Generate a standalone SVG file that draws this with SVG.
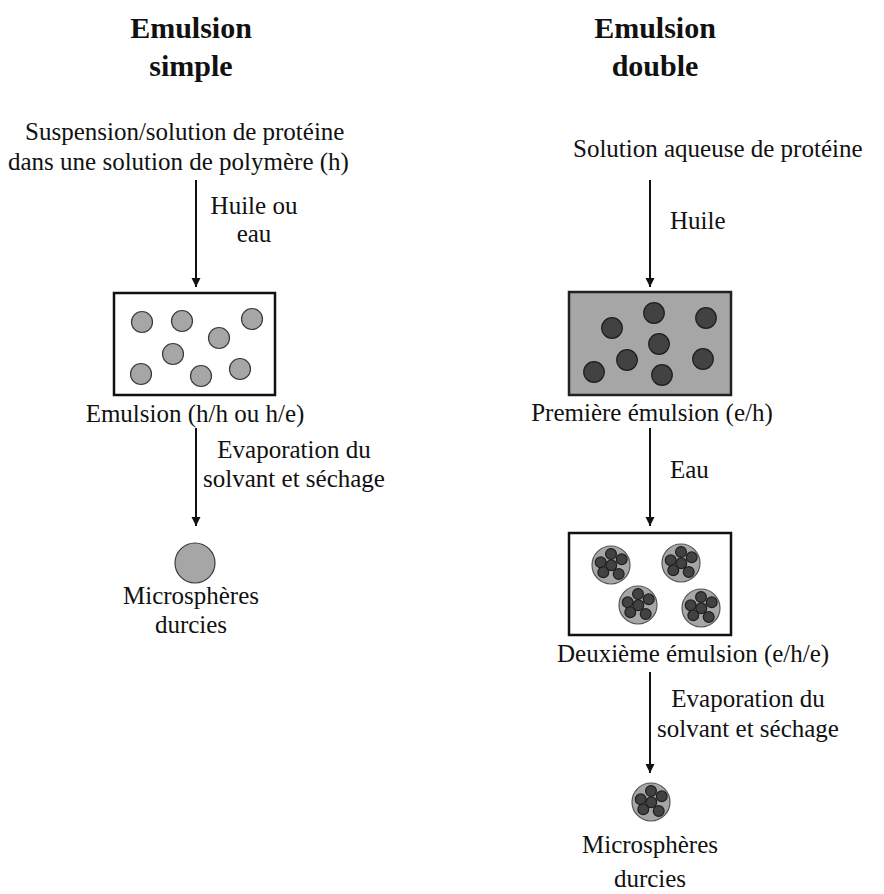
<svg xmlns="http://www.w3.org/2000/svg" width="884" height="894" viewBox="0 0 884 894">
<style>
text{font-family:"Liberation Serif","Times New Roman",serif;font-size:25px;fill:#111}
.title{font-weight:bold;font-size:30px;text-anchor:middle}
.mid{text-anchor:middle}
.box{fill:#fff;stroke:#111;stroke-width:2.5}
.boxg{fill:#a6a6a6;stroke:#222;stroke-width:2.5}
.lc{fill:#a6a6a6;stroke:#3a3a3a;stroke-width:1.2}
.dc{fill:#424242;stroke:#1e1e1e;stroke-width:1.2}
.conn line{stroke:#111;stroke-width:2}
</style>
<defs>
<marker id="ah" viewBox="0 0 10 10" refX="10" refY="5" markerWidth="4.5" markerHeight="5" markerUnits="strokeWidth" orient="auto">
<path d="M0,0 L10,5 L0,10 z" fill="#111"/>
</marker>
<g id="comp">
<circle r="19" fill="#a6a6a6" stroke="#555" stroke-width="1.2"/>
<circle class="dc" cx="0" cy="-11" r="5.4"/>
<circle class="dc" cx="10.7" cy="-5.7" r="5.4"/>
<circle class="dc" cx="-10.3" cy="-2.7" r="5.4"/>
<circle class="dc" cx="0.3" cy="0.3" r="5.4"/>
<circle class="dc" cx="-7.7" cy="7.3" r="5.4"/>
<circle class="dc" cx="7.7" cy="9" r="5.4"/>
</g>
</defs>
<rect width="884" height="894" fill="#fff"/>

<g id="title-simple">
<text class="title" x="191" y="38">Emulsion</text>
<text class="title" x="191" y="76">simple</text>
</g>
<g id="title-double">
<text class="title" x="655" y="38">Emulsion</text>
<text class="title" x="655" y="76">double</text>
</g>

<g id="start-simple">
<text x="25" y="140">Suspension/solution de protéine</text>
<text x="8" y="170">dans une solution de polymère (h)</text>
</g>

<g id="emulsion-simple">
<rect class="box" x="114" y="293" width="161" height="102"/>
<circle class="lc" cx="142" cy="322" r="10.5"/>
<circle class="lc" cx="182" cy="321" r="10.5"/>
<circle class="lc" cx="252" cy="319" r="10.5"/>
<circle class="lc" cx="219" cy="338" r="10.5"/>
<circle class="lc" cx="173" cy="354" r="10.5"/>
<circle class="lc" cx="141" cy="374" r="10.5"/>
<circle class="lc" cx="201" cy="376" r="10.5"/>
<circle class="lc" cx="240" cy="369" r="10.5"/>
<text class="mid" x="195" y="422">Emulsion (h/h ou h/e)</text>
</g>

<g id="micro-simple">
<circle class="lc" cx="195" cy="563" r="20"/>
<text class="mid" x="191" y="604">Microsphères</text>
<text class="mid" x="191" y="633">durcies</text>
</g>

<g id="start-double">
<text x="573" y="157">Solution aqueuse de protéine</text>
</g>

<g id="emulsion-1">
<rect class="boxg" x="569" y="292" width="162" height="103"/>
<circle class="dc" cx="612" cy="328" r="10.3"/>
<circle class="dc" cx="654" cy="313" r="10.3"/>
<circle class="dc" cx="706" cy="318" r="10.3"/>
<circle class="dc" cx="659" cy="344" r="10.3"/>
<circle class="dc" cx="627" cy="360" r="10.3"/>
<circle class="dc" cx="594" cy="372" r="10.3"/>
<circle class="dc" cx="662" cy="375" r="10.3"/>
<circle class="dc" cx="703" cy="359" r="10.3"/>
<text class="mid" x="652" y="421">Première émulsion (e/h)</text>
</g>

<g id="emulsion-2">
<rect class="box" x="569" y="533" width="162" height="102"/>
<use href="#comp" x="611" y="565"/>
<use href="#comp" x="681" y="563"/>
<use href="#comp" x="638" y="605"/>
<use href="#comp" x="701" y="608"/>
<text x="557" y="662">Deuxième émulsion (e/h/e)</text>
</g>

<g id="micro-double">
<use href="#comp" x="651" y="802"/>
<text class="mid" x="650" y="853">Microsphères</text>
<text class="mid" x="650" y="887">durcies</text>
</g>

<g id="connectors" class="conn">
<line x1="196" y1="180" x2="196" y2="287" marker-end="url(#ah)"/>
<line x1="196" y1="428" x2="196" y2="526" marker-end="url(#ah)"/>
<line x1="650" y1="180" x2="650" y2="287" marker-end="url(#ah)"/>
<line x1="650" y1="428" x2="650" y2="526" marker-end="url(#ah)"/>
<line x1="650" y1="672" x2="650" y2="773" marker-end="url(#ah)"/>
</g>

<g id="labels">
<text class="mid" x="254" y="214">Huile ou</text>
<text class="mid" x="254" y="242">eau</text>
<text class="mid" x="294" y="458">Evaporation du</text>
<text class="mid" x="294" y="487">solvant et séchage</text>
<text x="670" y="229">Huile</text>
<text x="670" y="478">Eau</text>
<text class="mid" x="748" y="707">Evaporation du</text>
<text class="mid" x="748" y="737">solvant et séchage</text>
</g>
</svg>
